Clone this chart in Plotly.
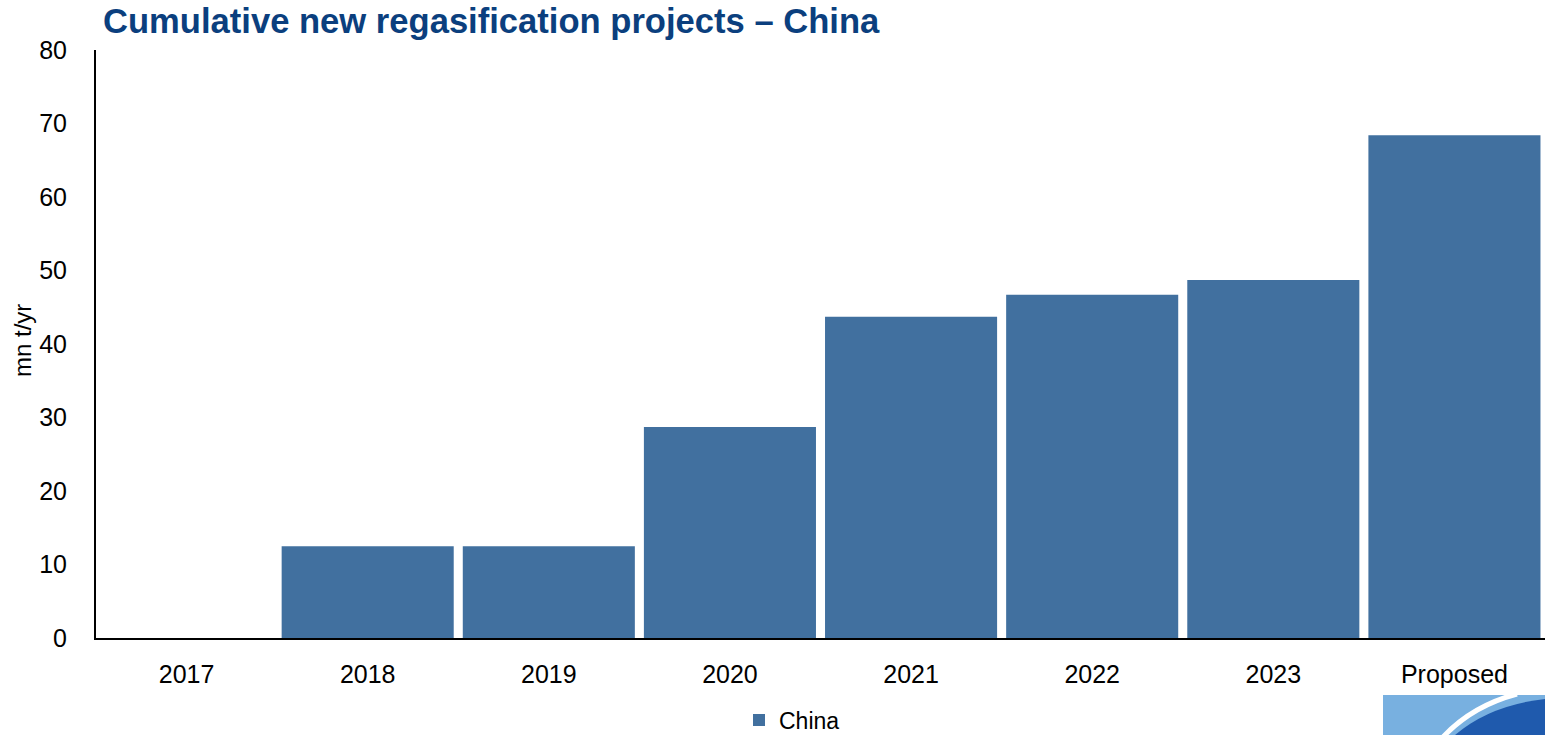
import plotly.graph_objects as go

categories = ["2017", "2018", "2019", "2020", "2021", "2022", "2023", "Proposed"]
china_values = [0, 12.5, 12.5, 28.7, 43.7, 46.7, 48.7, 68.4]
y_ticks = [0, 10, 20, 30, 40, 50, 60, 70, 80]

W, H = 1545, 735
L, R, T, B = 96, 0, 50, 97
pw, ph = W - L - R, H - T - B

def px(x):
    return (x - L) / pw

def py(y):
    return (H - B - y) / ph

BAR = "#41709f"
TITLE = "#0b3f7e"
FONT = "Liberation Sans, Arial, sans-serif"

fig = go.Figure()
fig.add_trace(go.Bar(
    x=categories, y=china_values, name="China",
    marker=dict(color=BAR, line=dict(width=0)),
))

fig.update_layout(
    width=W, height=H,
    margin=dict(l=L, r=R, t=T, b=B, pad=0, autoexpand=False),
    paper_bgcolor="white", plot_bgcolor="white",
    bargap=0.05,
    font=dict(family=FONT, size=25, color="black"),
    title=dict(text="<b>Cumulative new regasification projects – China</b>",
               x=103 / W, xanchor="left", xref="container",
               y=1 - 21 / H, yanchor="middle", yref="container",
               font=dict(family=FONT, size=34.6, color=TITLE)),
    showlegend=True,
    legend=dict(orientation="h", x=px(792), xanchor="center", y=py(720), yanchor="middle",
                font=dict(family=FONT, size=23, color="black"),
                itemwidth=30, bgcolor="rgba(0,0,0,0)", borderwidth=0),
    xaxis=dict(showline=True, linecolor="black", linewidth=2, ticks="",
               showgrid=False, zeroline=False, ticklabelstandoff=13,
               tickfont=dict(size=25), automargin=False),
    yaxis=dict(range=[0, 80], tickvals=y_ticks, showline=True, linecolor="black",
               linewidth=2, ticks="", showgrid=False, zeroline=False,
               ticklabelstandoff=22, tickfont=dict(size=25), automargin=False),
)

fig.add_annotation(text="mn t/yr", x=px(22), y=py(341), xref="paper", yref="paper",
                   textangle=-90, showarrow=False, xanchor="center", yanchor="middle",
                   font=dict(family=FONT, size=24, color="black"))

# logo decoration in bottom-right corner
fig.add_shape(type="rect", xref="paper", yref="paper",
              x0=px(1383), x1=px(1545), y0=py(735), y1=py(695),
              fillcolor="#78b0e0", line=dict(width=0), layer="above")
fig.add_shape(type="path", xref="paper", yref="paper",
              path=(f"M {px(1455)},{py(735)} Q {px(1490)},{py(705)} {px(1545)},{py(699)} "
                    f"L {px(1545)},{py(735)} Z"),
              fillcolor="#1f5aad", line=dict(width=0), layer="above")
fig.add_shape(type="path", xref="paper", yref="paper",
              path=(f"M {px(1443)},{py(737)} Q {px(1472)},{py(706)} {px(1517)},{py(694)}"),
              line=dict(color="white", width=5), layer="above")

fig.write_html("out.html", config={"displayModeBar": False},
               post_script="document.body.style.margin='0';document.body.style.overflow='hidden';")
